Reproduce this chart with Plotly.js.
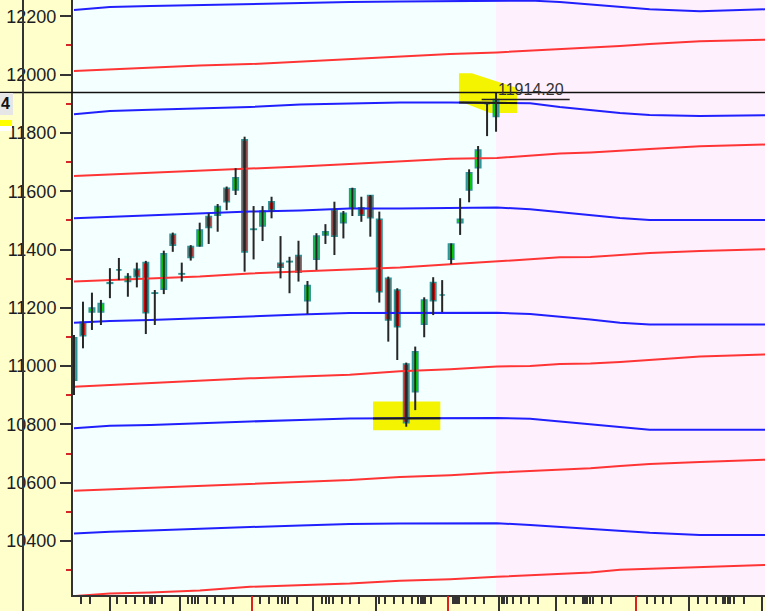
<!DOCTYPE html>
<html><head><meta charset="utf-8">
<script src="https://cdn.plot.ly/plotly-3.0.1.min.js"></script>
<style>html,body{margin:0;padding:0;background:#FFFFCC;} #chart{width:765px;height:611px;}</style>
</head><body><div id="chart"></div>
<script>
// ---- candle data (daily OHLC) ----
const openP  = [10952,11150,11186,11186,11286,11330,11290,11332,11355,11250,11264,11452,11316,11410,11412,11513,11518,11610,11604,11776,11469,11481,11564,11353,11358,11379,11224,11367,11450,11536,11492,11543,11543,11585,11504,11301,11261,11007,10912,11144,11287,11244,11367,11492,11604,11681,11900,11856];
const highP  = [11107,11221,11252,11227,11336,11371,11319,11355,11361,11261,11396,11458,11355,11415,11492,11524,11556,11616,11679,11787,11549,11549,11581,11446,11375,11430,11292,11456,11487,11564,11532,11612,11581,11587,11530,11307,11267,11012,11067,11236,11305,11295,11421,11576,11675,11755,11904,11939];
const lowP   = [10901,11061,11124,11141,11233,11295,11238,11270,11110,11141,11247,11392,11290,11362,11410,11419,11461,11535,11587,11324,11366,11429,11507,11301,11250,11290,11179,11330,11419,11381,11438,11515,11495,11444,11218,11084,11021,10792,10849,11099,11175,11185,11350,11450,11562,11625,11789,11804];
const closeP = [11097,11104,11199,11215,11284,11330,11307,11307,11183,11251,11385,11415,11317,11373,11467,11476,11547,11564,11646,11392,11470,11532,11536,11339,11359,11322,11276,11446,11461,11446,11524,11608,11518,11509,11255,11158,11135,10806,11049,11227,11224,11244,11419,11504,11663,11741,11900,11914.2];

// ---- channel lines (values at knot positions on the bar index axis) ----
const lineX = [0, 4, 8.5, 14, 19.6, 25.2, 30.7, 36.3, 41.9, 47.1, 50.8, 54.1, 57.5, 60.8, 64.1, 69.7, 77];
const blue1 = [12222,12232,12235,12239,12242,12246,12249,12251,12252,12254,12254,12249,12240,12232,12224,12217,12224];
const blue2 = [11864,11875,11879,11884,11889,11897,11901,11904,11904,11904,11902,11889,11879,11868,11861,11858,11861];
const blue3 = [11507,11512,11518,11524,11530,11534,11541,11541,11542,11544,11538,11528,11518,11508,11501,11501,11501];
const blue4 = [11149,11155,11158,11165,11170,11177,11182,11183,11183,11183,11179,11170,11160,11149,11143,11143,11143];
const blue5 = [10787,10795,10798,10805,10810,10815,10820,10821,10821,10822,10819,10810,10802,10793,10782,10782,10782];
const blue6 = [10426,10432,10436,10443,10448,10453,10458,10460,10461,10461,10455,10448,10441,10436,10428,10421,10421];
const red1 = [12012,12018,12023,12031,12036,12045,12054,12062,12071,12076,12082,12086,12093,12098,12105,12114,12120];
const red2 = [11652,11657,11664,11671,11676,11685,11693,11702,11711,11714,11723,11729,11733,11740,11745,11754,11760];
const red3 = [11290,11295,11301,11307,11318,11324,11330,11338,11349,11359,11366,11373,11374,11381,11388,11395,11401];
const red4 = [10929,10935,10941,10949,10958,10964,10970,10982,10989,10999,11000,11007,11009,11014,11021,11033,11040];
const red5 = [10572,10577,10582,10589,10596,10602,10609,10620,10626,10635,10640,10645,10650,10657,10664,10671,10679];
const red6 = [10211,10220,10223,10230,10243,10249,10254,10264,10269,10277,10283,10289,10292,10301,10304,10310,10318];

// ---- x axis tick marks (bar index units) ----
const majorTicks = [4.01, 11.8, 26.65, 33.63, 47.33, 53.67, 68.49, 76.65];
const redTicks = [19.79, 41.68, 62.58];
const minorTicks = [0.75,1.78,4.76,5.76,6.79,7.8,8.46,8.72,9.02,9.77,12.73,13.11,13.47,13.84,14.78,15.7,16.7,17.74,20.71,21.75,22.75,23.13,23.5,23.86,24.8,27.58,28.03,28.43,28.88,29.81,30.73,31.74,33.96,34.63,35.67,36.67,37.67,38.34,38.61,38.83,39.09,39.72,42.17,42.35,42.54,42.73,42.91,43.65,44.65,45.66,47.63,47.88,48.18,48.92,49.74,50.67,51.7,54.75,55.68,56.65,56.9,57.16,57.46,57.76,58.76,59.77,63.78,64.7,65.63,66.45,69.52,70.46,71.49,72.3,72.49,72.79,73.05,73.53,74.61];

// highlight zones (bar index / price)
const lowZone = {x0:33.3, x1:40.8, y0:10780, y1:10879};
const highZone = {x0:42.87, x1:49.33};

const idx = openP.map((_, i) => i);
const last = idx.length - 1;
const XR = [-0.11, 76.95];
const YR = [10214.8, 12255.9];

function interp(xs, ys, x) {
  for (let k = 0; k < xs.length - 1; k++) {
    if (x >= xs[k] && x <= xs[k+1]) return ys[k] + (ys[k+1]-ys[k]) * (x - xs[k]) / (xs[k+1]-xs[k]);
  }
  return ys[ys.length-1];
}
function segment(xs, ys, a, b) {
  const sx = [a], sy = [interp(xs, ys, a)];
  xs.forEach((v, k) => { if (v > a && v < b) { sx.push(v); sy.push(ys[k]); } });
  sx.push(b); sy.push(interp(xs, ys, b));
  return {x:sx, y:sy};
}

const traces = [];
const blues = [blue1, blue2, blue3, blue4, blue5, blue6];
const reds = [red1, red2, red3, red4, red5, red6];
blues.forEach(b => traces.push({type:'scatter', mode:'lines', x:lineX, y:b, line:{color:'#2020FF', width:2}, hoverinfo:'skip'}));
reds.forEach(r => traces.push({type:'scatter', mode:'lines', x:lineX, y:r, line:{color:'#FF3535', width:2}, hoverinfo:'skip'}));

// blue line seen through the highlighter (darkened)
const s1 = segment(lineX, blue5, lowZone.x0, lowZone.x1);
const s2 = segment(lineX, blue2, highZone.x0, highZone.x1);
traces.push({type:'scatter', mode:'lines', x:s1.x, y:s1.y, line:{color:'#1c1c10', width:2}, hoverinfo:'skip'});
traces.push({type:'scatter', mode:'lines', x:s2.x, y:s2.y, line:{color:'#1c1c10', width:2}, hoverinfo:'skip'});

// wicks
const wx = [], wy = [];
idx.forEach(i => { wx.push(i, i, null); wy.push(lowP[i], highP[i], null); });
traces.push({type:'scatter', mode:'lines', x:wx, y:wy, line:{color:'#262626', width:2}, hoverinfo:'skip'});

// bodies
traces.push({
  type:'bar', x:idx,
  base: idx.map(i => Math.min(openP[i], closeP[i])),
  y: idx.map(i => Math.abs(closeP[i] - openP[i])),
  width:0.6,
  marker:{color: idx.map(i => closeP[i] >= openP[i] ? '#00E000' : '#EE0000'), line:{color:'#2E9696', width:1.6}},
  hoverinfo:'skip'
});
// carrier for the red tick axis
traces.push({type:'scatter', x:[redTicks[0]], y:[null], xaxis:'x2', hoverinfo:'skip', showlegend:false});

const W = 692, H = 595;
const px = v => (v - 73) / W;          // page px -> paper x
const py = v => 1 - v / H;             // page px -> paper y

const layout = {
  width:765, height:611,
  margin:{l:73, r:0, t:0, b:16},
  paper_bgcolor:'#FFFFCC', plot_bgcolor:'#F4FFFF',
  showlegend:false, barmode:'overlay',
  font:{family:'"Liberation Sans", Arial, sans-serif'},
  xaxis:{
    range:XR, showgrid:false, zeroline:false,
    showline:true, linecolor:'#333', linewidth:2,
    ticks:'outside', tickmode:'array', tickvals:majorTicks, ticklen:14, tickwidth:2, tickcolor:'#333',
    showticklabels:false,
    minor:{ticks:'outside', tickmode:'array', tickvals:minorTicks, ticklen:7, tickwidth:2, tickcolor:'#333', showgrid:false}
  },
  xaxis2:{
    overlaying:'x', anchor:'y', side:'bottom', range:XR,
    showgrid:false, zeroline:false, showline:false,
    ticks:'outside', tickmode:'array', tickvals:redTicks, ticklen:17, tickwidth:2, tickcolor:'#E02020',
    showticklabels:false
  },
  yaxis:{
    range:YR, showgrid:false, zeroline:false,
    showline:true, linecolor:'#333', linewidth:2,
    tickmode:'linear', tick0:10400, dtick:200, tickformat:'d',
    ticks:'outside', ticklen:11, tickwidth:2, tickcolor:'#333',
    tickfont:{size:18, color:'#1c1c24', family:'"Liberation Sans", Arial, sans-serif'},
    minor:{ticks:'outside', dtick:100, tick0:10300, ticklen:5, tickwidth:2, tickcolor:'#D42828', showgrid:false}
  },
  shapes:[
    // future zone
    {type:'rect', layer:'below', xref:'x', yref:'paper', x0:last, x1:XR[1]+1, y0:0, y1:1, fillcolor:'#FFF0FE', line:{width:0}},
    // highlight at the low
    {type:'rect', layer:'below', xref:'x', yref:'y', x0:lowZone.x0, x1:lowZone.x1, y0:lowZone.y0, y1:lowZone.y1, fillcolor:'#F4F400', line:{width:0}},
    // highlight at the high
    {type:'path', layer:'below', xref:'x', yref:'y', path:'M42.87,12005 L44.3,12005 L49.33,11954 L49.33,11868 L46.33,11868 L42.87,11909 Z', fillcolor:'#F4F400', line:{width:0}},
    // crosshair
    {type:'line', layer:'above', xref:'paper', yref:'y', x0:px(0), x1:1, y0:highP[last], y1:highP[last], line:{color:'#111', width:1.5}},
    {type:'line', layer:'above', xref:'paper', yref:'paper', x0:px(23), x1:px(23), y0:-0.03, y1:1, line:{color:'#333', width:2}},
    // last close marker
    {type:'line', layer:'above', xref:'x', yref:'y', x0:45.4, x1:55.2, y0:closeP[last], y1:closeP[last], line:{color:'#222', width:1.5}},
    // left price tag remnants
    {type:'rect', layer:'above', xref:'paper', yref:'paper', x0:px(0), x1:px(13), y0:py(115), y1:py(93), fillcolor:'#E6E6E6', line:{width:0}},
    {type:'rect', layer:'above', xref:'paper', yref:'paper', x0:px(0), x1:px(12), y0:py(126), y1:py(120), fillcolor:'#FFFF00', line:{width:0}},
    {type:'rect', layer:'above', xref:'paper', yref:'paper', x0:px(0), x1:px(12), y0:py(131), y1:py(126), fillcolor:'#FFFFFF', line:{width:0}}
  ],
  annotations:[
    {xref:'x', yref:'y', x:last, y:closeP[last], yshift:10, xanchor:'left', yanchor:'middle', showarrow:false,
     text:closeP[last].toFixed(2), font:{size:16, color:'#333'}},
    {xref:'paper', yref:'paper', x:px(0), y:py(103), xanchor:'left', yanchor:'middle', showarrow:false,
     text:'<b>4</b>', font:{size:16, color:'#111'}, borderpad:0}
  ]
};

Plotly.newPlot('chart', traces, layout, {displayModeBar:false, staticPlot:true});
</script></body></html>
